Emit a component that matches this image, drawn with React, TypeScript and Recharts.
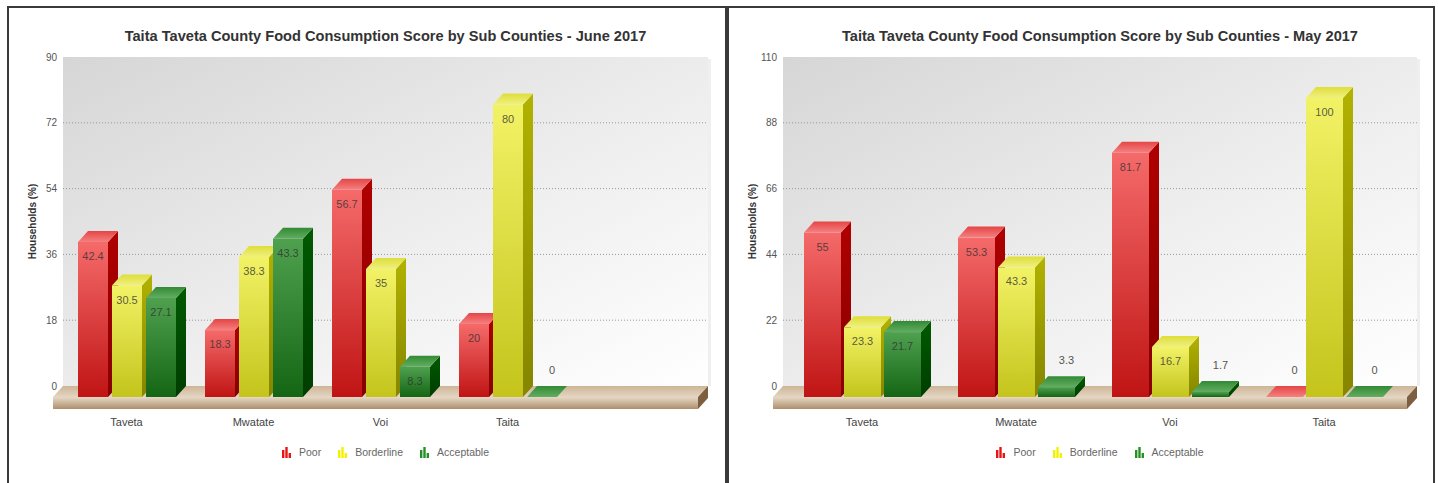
import { Bar, BarChart, CartesianGrid, XAxis, YAxis } from "recharts";

const subCounties = ["Taveta", "Mwatate", "Voi", "Taita"];

const junePoor = [42.4, 18.3, 56.7, 20];
const juneBorderline = [30.5, 38.3, 35, 80];
const juneAcceptable = [27.1, 43.3, 8.3, 0];
const juneTicks = [0, 18, 36, 54, 72, 90];

const mayPoor = [55, 53.3, 81.7, 0];
const mayBorderline = [23.3, 43.3, 16.7, 100];
const mayAcceptable = [21.7, 3.3, 1.7, 0];
const mayTicks = [0, 22, 44, 66, 88, 110];

const seriesNames = ["Poor", "Borderline", "Acceptable"];
const seriesKeys = ["poor", "borderline", "acceptable"];

// 3d look: front face is pushed down/left from the value plane
const DX = 10;
const DY = 11;
const PLOT_TOP = 57;
const PLOT_BOTTOM = 386;
const Y_AXIS_W = 56;
const FONT = "'Liberation Sans', Arial, sans-serif";

const styles: Record<string, any> = {
  poor: {
    front: ["#f56a6a", "#c01414"],
    side: ["#b00000", "#860000"],
    top: ["#e54545", "#f58080"],
    legend: "#e81414",
  },
  borderline: {
    front: ["#f2f266", "#c4c41c"],
    side: ["#b2b200", "#858500"],
    top: ["#dede3a", "#f0f080"],
    legend: "#f2f200",
  },
  acceptable: {
    front: ["#4fa04f", "#146614"],
    side: ["#005a00", "#003d00"],
    top: ["#338a33", "#62ad62"],
    legend: "#259225",
  },
};

function buildRows(poor: number[], borderline: number[], acceptable: number[]) {
  return subCounties.map((name, i) => ({
    name,
    poor: poor[i],
    borderline: borderline[i],
    acceptable: acceptable[i],
  }));
}

const juneRows = buildRows(junePoor, juneBorderline, juneAcceptable);
const mayRows = buildRows(mayPoor, mayBorderline, mayAcceptable);

function bar3d(key: string) {
  return (props: any) => {
    const { x, y, width, height, payload } = props;
    if (x == null || y == null) return <g />;
    const value = payload[key];
    const base = y + height;
    const fy = y + DY;
    const fb = base + DY;
    const inside = fb - fy >= 20;
    return (
      <g>
        <rect x={x} y={fy} width={width} height={Math.max(0, fb - fy)} fill={`url(#${key}-front)`} />
        <polygon
          points={`${x + width},${fy} ${x + width + DX},${y} ${x + width + DX},${base} ${x + width},${fb}`}
          fill={`url(#${key}-side)`}
        />
        <polygon
          points={`${x},${fy} ${x + DX},${y} ${x + width + DX},${y} ${x + width},${fy}`}
          fill={`url(#${key}-top)`}
        />
        {inside ? (
          <text x={x + width / 2} y={fy + 18} textAnchor="middle" fontSize={11} fontFamily={FONT} fill="#333" fillOpacity={0.8}>
            {String(value)}
          </text>
        ) : (
          <text x={x + width / 2 + DX} y={fy - 23} textAnchor="middle" fontSize={11} fontFamily={FONT} fill="#555">
            {String(value)}
          </text>
        )}
      </g>
    );
  };
}

function LegendIcon({ color }: { color: string }) {
  return (
    <svg width={9} height={11} style={{ display: "block" }}>
      <rect x={0} y={3} width={2.4} height={8} fill={color} />
      <rect x={3.3} y={0} width={2.4} height={11} fill={color} />
      <rect x={6.6} y={6} width={2.4} height={5} fill={color} />
    </svg>
  );
}

function Panel({
  left,
  width,
  plotRight,
  title,
  rows,
  ticks,
  barSize,
  barGap,
  padding,
}: {
  left: number;
  width: number;
  plotRight: number;
  title: string;
  rows: any[];
  ticks: number[];
  barSize: number;
  barGap: number;
  padding: { left: number; right: number };
}) {
  const plotW = plotRight - Y_AXIS_W;
  const max = ticks[ticks.length - 1];
  return (
    <div style={{ position: "absolute", left, top: 0, width, height: 483 }}>
      <div
        style={{
          position: "absolute",
          left: 0,
          top: 6,
          width,
          height: 500,
          border: "2px solid #3a3a3a",
          boxSizing: "border-box",
          background: "#fff",
        }}
      />
      <svg width={width} height={483} style={{ position: "absolute", left: 0, top: 0 }}>
        <defs>
          <linearGradient id={`bg-${left}`} x1="0" y1="0" x2="1" y2="1">
            <stop offset="0" stopColor="#d6d6d6" />
            <stop offset="0.55" stopColor="#eeeeee" />
            <stop offset="1" stopColor="#ffffff" />
          </linearGradient>
          <linearGradient id={`floorTop-${left}`} x1="0" y1="0" x2="0" y2="1">
            <stop offset="0" stopColor="#cdb597" />
            <stop offset="1" stopColor="#e3d5c2" />
          </linearGradient>
          <linearGradient id={`floorFront-${left}`} x1="0" y1="0" x2="0" y2="1">
            <stop offset="0" stopColor="#e6d9c6" />
            <stop offset="1" stopColor="#ae8f6c" />
          </linearGradient>
        </defs>
        <rect x={Y_AXIS_W} y={PLOT_TOP} width={plotW} height={PLOT_BOTTOM - PLOT_TOP} fill={`url(#bg-${left})`} />
        <rect x={plotRight} y={PLOT_TOP + 2} width={3} height={PLOT_BOTTOM - PLOT_TOP - 2} fill="#e4e4e4" opacity={0.6} />
        <polygon
          points={`${Y_AXIS_W},${PLOT_BOTTOM} ${plotRight},${PLOT_BOTTOM} ${plotRight - DX},${PLOT_BOTTOM + DY} ${Y_AXIS_W - DX},${PLOT_BOTTOM + DY}`}
          fill={`url(#floorTop-${left})`}
        />
        <rect x={Y_AXIS_W - DX} y={PLOT_BOTTOM + DY} width={plotW} height={12} fill={`url(#floorFront-${left})`} />
        <polygon
          points={`${plotRight - DX},${PLOT_BOTTOM + DY} ${plotRight},${PLOT_BOTTOM} ${plotRight},${PLOT_BOTTOM + 12} ${plotRight - DX},${PLOT_BOTTOM + DY + 12}`}
          fill="#7d5f40"
        />
        <text
          x={25}
          y={(PLOT_TOP + PLOT_BOTTOM) / 2}
          transform={`rotate(-90, 25, ${(PLOT_TOP + PLOT_BOTTOM) / 2})`}
          textAnchor="middle"
          dominantBaseline="central"
          fontSize={10}
          fontWeight="bold"
          fontFamily={FONT}
          fill="#333"
        >
          Households (%)
        </text>
      </svg>
      <div
        style={{
          position: "absolute",
          left: Y_AXIS_W,
          width: plotW,
          top: 27,
          lineHeight: "18px",
          textAlign: "center",
          fontFamily: FONT,
          fontWeight: "bold",
          fontSize: 14.6,
          color: "#333",
          whiteSpace: "nowrap",
        }}
      >
        {title}
      </div>
      <div style={{ position: "absolute", left: 0, top: 0 }}>
        <BarChart
          width={width}
          height={483}
          data={rows}
          margin={{ top: PLOT_TOP, right: width - plotRight, bottom: 57, left: 0 }}
          barSize={barSize}
          barGap={barGap}
        >
          <CartesianGrid
            vertical={false}
            horizontalValues={ticks.slice(1, -1)}
            stroke="#999"
            strokeDasharray="1 2"
          />
          <XAxis
            dataKey="name"
            height={40}
            padding={padding}
            axisLine={false}
            tickLine={false}
            tickSize={0}
            tickMargin={0}
            interval={0}
            tick={(p: any) => (
              <text x={p.x} y={p.y + 40} textAnchor="middle" fontSize={11} fontFamily={FONT} fill="#444">
                {p.payload.value}
              </text>
            )}
          />
          <YAxis
            width={Y_AXIS_W}
            domain={[0, max]}
            ticks={ticks}
            axisLine={false}
            tickLine={false}
            tickSize={0}
            tickMargin={6}
            tick={{ fontSize: 10, fill: "#555", fontFamily: FONT }}
          />
          {seriesKeys.map((key) => (
            <Bar key={key} dataKey={key} isAnimationActive={false} shape={bar3d(key)} />
          ))}
        </BarChart>
      </div>
      <div
        style={{
          position: "absolute",
          left: Y_AXIS_W,
          width: plotW,
          top: 446,
          display: "flex",
          justifyContent: "center",
          alignItems: "center",
          gap: 17,
          fontFamily: FONT,
          fontSize: 10.5,
          color: "#666",
        }}
      >
        {seriesKeys.map((key, i) => (
          <div key={key} style={{ display: "flex", alignItems: "center", gap: 8 }}>
            <LegendIcon color={styles[key].legend} />
            <span>{seriesNames[i]}</span>
          </div>
        ))}
      </div>
    </div>
  );
}

export default function App() {
  return (
    <div style={{ position: "absolute", left: 0, top: 0, width: 1438, height: 483, overflow: "hidden", background: "#fff" }}>
      <svg width={0} height={0} style={{ position: "absolute" }}>
        <defs>
          {seriesKeys.map((key) => (
            <g key={key}>
              <linearGradient id={`${key}-front`} x1="0" y1="0" x2="0" y2="1">
                <stop offset="0" stopColor={styles[key].front[0]} />
                <stop offset="1" stopColor={styles[key].front[1]} />
              </linearGradient>
              <linearGradient id={`${key}-side`} x1="0" y1="0" x2="0" y2="1">
                <stop offset="0" stopColor={styles[key].side[0]} />
                <stop offset="1" stopColor={styles[key].side[1]} />
              </linearGradient>
              <linearGradient id={`${key}-top`} x1="0" y1="0" x2="0" y2="1">
                <stop offset="0" stopColor={styles[key].top[0]} />
                <stop offset="1" stopColor={styles[key].top[1]} />
              </linearGradient>
            </g>
          ))}
        </defs>
      </svg>
      <Panel
        left={7}
        width={720}
        plotRight={701}
        title="Taita Taveta County Food Consumption Score by Sub Counties - June 2017"
        rows={juneRows}
        ticks={juneTicks}
        barSize={30}
        barGap={4}
        padding={{ left: 0, right: 137 }}
      />
      <Panel
        left={727}
        width={708}
        plotRight={690}
        title="Taita Taveta County Food Consumption Score by Sub Counties - May 2017"
        rows={mayRows}
        ticks={mayTicks}
        barSize={37}
        barGap={3}
        padding={{ left: 2, right: 16 }}
      />
    </div>
  );
}
